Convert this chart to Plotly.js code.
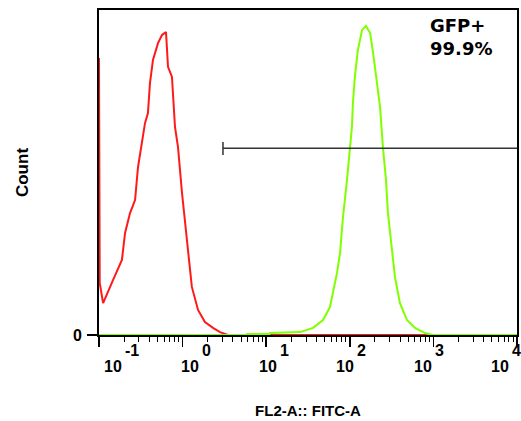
<!DOCTYPE html>
<html>
<head>
<meta charset="utf-8">
<script src="https://cdn.plot.ly/plotly-3.0.1.min.js"></script>
<style>html,body{margin:0;padding:0;background:#fff;}#chart{width:521px;height:421px;}</style>
</head>
<body>
<div id="chart"></div>
<script>
// Unstained control (red) histogram: fluorescence value vs count
const redX = [0.1, 0.1015, 0.102, 0.112, 0.125, 0.147, 0.188, 0.205, 0.235, 0.27, 0.293, 0.327, 0.355, 0.385, 0.407, 0.442, 0.508, 0.567, 0.633, 0.669, 0.746, 0.811, 0.881, 0.984, 1.13, 1.29, 1.53, 1.85, 2.31, 2.8, 3.49, 1000];
const redY = [85.2, 45.2, 16, 9.8, 12.9, 16.9, 23.1, 31.4, 37.5, 41.5, 51.7, 59.1, 65.2, 68.3, 77.5, 84.6, 89.8, 92.3, 93.2, 82.5, 79.4, 64, 57.8, 43.7, 29.2, 14.8, 7.7, 4, 2.2, 0.9, 0, 0];

// GFP sample (green) histogram
const greenX = [0.1, 5.85, 5.9, 11.0, 11.1, 20.9, 25.4, 36.3, 47.8, 57.9, 62.9, 70.3, 76.4, 82.9, 92.6, 100.5, 106, 109, 115, 125, 140, 156, 175, 190, 211, 230, 249, 271, 286, 320, 347, 398, 483, 603, 794, 989, 10000];
const greenY = [0, 0, 0.3, 0.3, 0.6, 0.9, 0.9, 2.2, 4.6, 8.6, 12.9, 19.1, 25.2, 36.3, 47.7, 59.1, 64, 71.4, 79.4, 87.7, 93.8, 95.1, 92.9, 86.8, 77.5, 70.2, 57.8, 47.7, 37.5, 25.2, 17.8, 9.8, 4.6, 2.2, 0.6, 0, 0];

// Gate marker
const gateX = [3.04, 3.04, 3.04, 10000];
const gateY = [55.4, 59.4, 57.5, 57.5];

// Tick labels (decades of the log axis)
const tickExps = [-1, 0, 1, 2, 3, 4];
const tickBase = ['10', '10', '10', '10', '10', '10'];
const tickExpText = ['-1', '0', '1', '2', '3', '4'];

const gateLabel = 'GFP+<br>99.9%';

const boldFont = {family: 'Liberation Sans, Arial, sans-serif', size: 16, color: '#000', weight: 'bold'};

const traces = [
  {x: redX, y: redY, type: 'scatter', mode: 'lines', line: {color: '#ff1a1a', width: 2}, hoverinfo: 'skip', showlegend: false},
  {x: greenX, y: greenY, type: 'scatter', mode: 'lines', line: {color: '#80ff00', width: 2}, hoverinfo: 'skip', showlegend: false},
  {x: gateX, y: gateY, type: 'scatter', mode: 'lines', line: {color: '#333333', width: 1.5}, hoverinfo: 'skip', showlegend: false}
];

// Decade labels as in the original export: "10" with a full-size exponent,
// spaced slightly tighter than the decade ticks.
const decadePx = 83.6, labelPx = 77.5;
function labelLog(n, shiftPx) { return -1 + (13.5 + labelPx * (n + 1) + shiftPx) / decadePx; }

const annotations = [];
tickExps.forEach(function (n, i) {
  annotations.push({x: labelLog(n, 0), y: -0.0954, xref: 'x', yref: 'paper', xanchor: 'center', yanchor: 'middle',
    showarrow: false, text: tickBase[i], font: boldFont});
  annotations.push({x: labelLog(n, 10), y: -0.0492, xref: 'x', yref: 'paper', xanchor: 'left', yanchor: 'middle',
    showarrow: false, text: tickExpText[i], font: boldFont});
});
annotations.push({x: 2.935, y: 99, xref: 'x', yref: 'y', xanchor: 'left', yanchor: 'top', align: 'left', showarrow: false,
  text: gateLabel, font: {family: 'DejaVu Sans, sans-serif', size: 18, color: '#000', weight: 'bold'}});

const layout = {
  width: 521, height: 421,
  margin: {l: 99, r: 4, t: 10, b: 86, pad: 0},
  paper_bgcolor: '#fff', plot_bgcolor: '#fff',
  showlegend: false,
  xaxis: {
    type: 'log', range: [-1, 4], dtick: 1,
    showline: true, mirror: true, linecolor: '#000', linewidth: 2,
    ticks: 'outside', ticklen: 10, tickwidth: 1.5, tickcolor: '#000',
    minor: {ticks: 'outside', ticklen: 5, tickwidth: 1, tickcolor: '#000', dtick: 'D1', showgrid: false},
    showticklabels: false, showgrid: false, zeroline: false,
    title: {text: 'FL2-A:: FITC-A', font: {family: 'Liberation Sans, Arial, sans-serif', size: 15, color: '#000', weight: 'bold'}, standoff: 59}
  },
  yaxis: {
    range: [0, 100],
    showline: true, mirror: true, linecolor: '#000', linewidth: 2,
    ticks: 'outside', ticklen: 10, tickwidth: 1.5, tickcolor: '#000',
    tickvals: [0], ticktext: ['0'], tickfont: boldFont, ticklabelstandoff: 2,
    showgrid: false, zeroline: false,
    title: {text: 'Count', font: {family: 'Liberation Sans, Arial, sans-serif', size: 17, color: '#000', weight: 'bold'}, standoff: 40}
  },
  annotations: annotations
};

Plotly.newPlot('chart', traces, layout, {displayModeBar: false, staticPlot: true});
</script>
</body>
</html>
